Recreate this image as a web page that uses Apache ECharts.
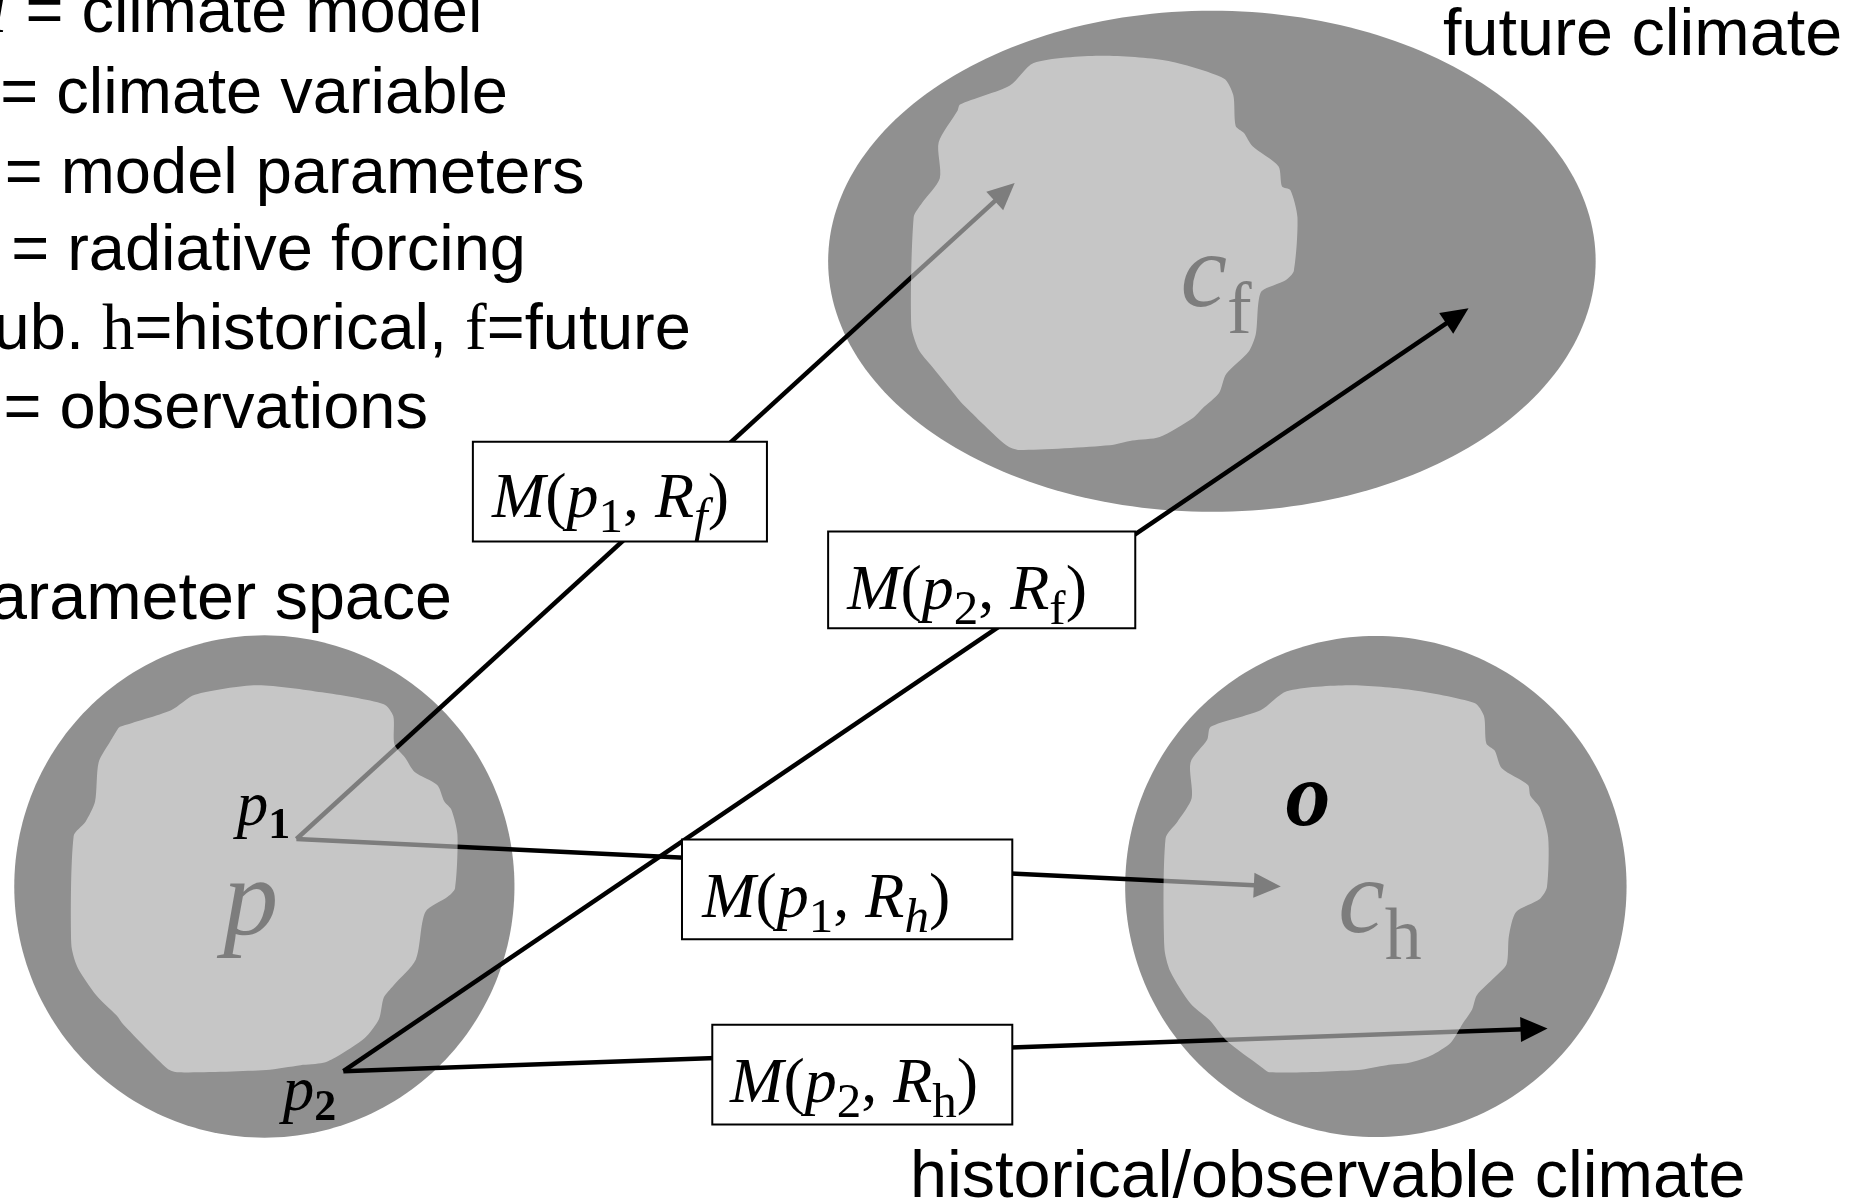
<!DOCTYPE html>
<html><head><meta charset="utf-8">
<script src="https://cdn.jsdelivr.net/npm/echarts@6/dist/echarts.min.js"></script>
<style>html,body{margin:0;padding:0;background:#fff;overflow:hidden}#c{width:1863px;height:1203px}</style>
</head><body><div id="c"></div>
<script>
// Diagram data space: x 0..1568, y 0..1013 (y grows downward)
const regionNames = ['parameter space', 'future climate', 'historical/observable climate'];
const regionCx = [222.5, 1020, 1158];
const regionCy = [746.5, 220, 746.5];
const regionRx = [210.5, 323, 211];
const regionRy = [211.5, 211, 211];

const paramBlob = [[101,612],[144,598],[164,585],[216,577],[271,583],[323,593],[331,603],[332,627],[341,638],[349,650],[368,661],[374,675],[380,682],[385,703],[383,748],[377,755],[358,768],[350,808],[331,830],[323,840],[319,858],[307,874],[283,890],[272,895],[253,897],[224,901],[150,903],[141,900],[104,863],[98,855],[81,838],[65,814],[60,795],[62,704],[72,692],[80,675],[83,642],[93,624],[99,614]];
const futureBlob = [[808,88],[850,72],[870,53],[925,47],[981,51],[1030,66],[1038,80],[1040,106],[1047,112],[1054,123],[1076,140],[1079,157],[1086,160],[1092,183],[1089,228],[1082,236],[1062,245],[1059,256],[1057,281],[1051,296],[1032,315],[1026,331],[1012,344],[1004,352],[976,368],[953,371],[934,375],[858,379],[847,375],[811,341],[805,334],[783,307],[773,294],[767,274],[769,183],[776,171],[791,150],[790,120],[806,93]];
const historicalBlob = [[1019,612],[1061,598],[1083,582],[1135,577],[1188,581],[1241,592],[1249,603],[1251,626],[1258,632],[1264,647],[1286,661],[1288,670],[1296,680],[1303,705],[1302,747],[1296,757],[1276,768],[1270,788],[1268,812],[1258,823],[1243,838],[1239,850],[1231,862],[1221,878],[1204,889],[1186,895],[1167,897],[1143,901],[1069,903],[1061,898],[1032,876],[1018,859],[1002,845],[985,818],[980,798],[981,706],[991,692],[1003,672],[1002,642],[1016,623]];
const blobs = [paramBlob, futureBlob, historicalBlob];

const arrowFrom = [[249.5,706.5],[249.5,706.5],[289,902],[289,902]];
const arrowTo = [[854,154],[1078,746.5],[1236,259.5],[1302.5,866]];

const boxX0 = [398, 697, 574, 599.5];
const boxX1 = [645.5, 955.5, 852, 852];
const boxY0 = [372, 447.5, 707, 863];
const boxY1 = [456, 529, 791, 947];
const boxTextX = [414, 713, 591, 614.5];
const boxTextY = [435.2, 512.5, 772, 927.6];
const boxFrags = [
  [['M','bIt'],['(','bRm'],['p','bIt'],['1','bSub'],[', ','bRm'],['R','bIt'],['f','bSubIt'],[')','bRm']],
  [['M','bIt'],['(','bRm'],['p','bIt'],['2','bSub'],[', ','bRm'],['R','bIt'],['f','bSub'],[')','bRm']],
  [['M','bIt'],['(','bRm'],['p','bIt'],['1','bSub'],[', ','bRm'],['R','bIt'],['h','bSubIt'],[')','bRm']],
  [['M','bIt'],['(','bRm'],['p','bIt'],['2','bSub'],[', ','bRm'],['R','bIt'],['h','bSub'],[')','bRm']]
];

const legendFrags = [
  [['M','lIt'],[' = climate model','sans']],
  [['c','lIt'],[' = climate variable','sans']],
  [['p','lIt'],[' = model parameters','sans']],
  [['R','lIt'],[' = radiative forcing','sans']],
  [['sub. ','sans'],['h','lRm'],['=historical, ','sans'],['f','lRm'],['=future','sans']],
  [['o','lIt'],[' = observations','sans']]
];
const legendRight = [406, 427.5, 492, 442.7, 581.5, 360.2];
const legendBase = [27, 94.8, 162.5, 227.5, 293.5, 360.5];

const headingTexts = ['parameter space', 'future climate', 'historical/observable climate'];
const headingX = [380.5, 1214.5, 766];
const headingBase = [521.5, 46.5, 1008];
const headingAlign = ['right', 'left', 'left'];

const markFrags = [[['p','pIt'],['1','pSub1']], [['p','pIt'],['2','pSub2']], [['o','oBi']]];
const markX = [199.2, 237.9, 1082];
const markBase = [694.4, 934.3, 694.5];

const symbolFrags = [[['p','gIt']], [['c','cIt'],['f','cSub']], [['c','cIt'],['h','cSub']]];
const symbolX = [188, 993.5, 1126.3];
const symbolBase = [787, 257.6, 784.5];

// ---- styles ----
const SERIF = "'Liberation Serif','Times New Roman',serif";
const SANS = "'Liberation Sans',Arial,sans-serif";
const fontStyles = {
  sans: {font: '65px ' + SANS, dy: 0},
  head: {font: '66.5px ' + SANS, dy: 0},
  lIt: {font: 'italic 65px ' + SERIF, dy: 0},
  lRm: {font: '65px ' + SERIF, dy: 0},
  bIt: {font: 'italic 64px ' + SERIF, dy: 0},
  bRm: {font: '64px ' + SERIF, dy: 0},
  bSub: {font: '49px ' + SERIF, dy: 15},
  bSubIt: {font: 'italic 49px ' + SERIF, dy: 15},
  pIt: {font: 'italic 63px ' + SERIF, dy: 0},
  pSub1: {font: 'bold 44px ' + SERIF, dy: 13},
  pSub2: {font: 'bold 44px ' + SERIF, dy: 10},
  cIt: {font: 'italic 105px ' + SERIF, dy: 0},
  cSub: {font: '74px ' + SERIF, dy: 27},
  gIt: {font: 'italic 110px ' + SERIF, dy: 0},
  oBi: {font: 'italic bold 90px ' + SERIF, dy: 0}
};
const DARK = '#909090';

const mctx = document.createElement('canvas').getContext('2d');
const offCache = {};
function baseOff(font) {
  if (offCache[font] == null) {
    mctx.font = font;
    mctx.textBaseline = 'alphabetic';
    const a = mctx.measureText('Hg').fontBoundingBoxAscent;
    mctx.textBaseline = 'middle';
    const m = mctx.measureText('Hg').fontBoundingBoxAscent;
    offCache[font] = a - m;
  }
  return offCache[font];
}
function textW(font, t) { mctx.font = font; mctx.textBaseline = 'alphabetic'; return mctx.measureText(t).width; }

function runEls(frags, px, py, align, fill) {
  let total = 0;
  frags.forEach(f => { total += textW(fontStyles[f[1]].font, f[0]); });
  let x = align === 'right' ? px - total : (align === 'center' ? px - total / 2 : px);
  const els = [];
  frags.forEach(f => {
    const st = fontStyles[f[1]];
    els.push({type: 'text', x: x, y: py + st.dy - baseOff(st.font),
      style: {text: f[0], font: st.font, fill: fill || '#000', align: 'left', verticalAlign: 'middle'}});
    x += textW(st.font, f[0]);
  });
  return els;
}

const chart = echarts.init(document.getElementById('c'), null, {renderer: 'canvas'});

const option = {
  animation: false,
  backgroundColor: '#ffffff',
  grid: {left: 0, right: 0, top: 0, bottom: 0},
  xAxis: {type: 'value', min: 0, max: 1568, show: false},
  yAxis: {type: 'value', min: 0, max: 1013, inverse: true, show: false},
  series: [
    { // dark regions
      type: 'custom', name: 'regions', z: 1, silent: true,
      data: regionCx.map((x, i) => [x, regionCy[i], regionRx[i], regionRy[i]]),
      renderItem: function (params, api) {
        const c = api.coord([api.value(0), api.value(1)]);
        const e = api.coord([api.value(0) + api.value(2), api.value(1) + api.value(3)]);
        const rx = e[0] - c[0], ry = e[1] - c[1];
        const pts = [];
        for (let k = 0; k < 240; k++) {
          const t = k / 240 * Math.PI * 2;
          pts.push([c[0] + rx * Math.cos(t), c[1] + ry * Math.sin(t)]);
        }
        return {type: 'polygon', shape: {points: pts}, style: {fill: DARK}};
      }
    },
    { // arrows
      type: 'custom', name: 'mappings', z: 2, silent: true,
      data: arrowFrom.map((f, i) => [f[0], f[1], arrowTo[i][0], arrowTo[i][1]]),
      renderItem: function (params, api) {
        const a = api.coord([api.value(0), api.value(1)]);
        const b = api.coord([api.value(2), api.value(3)]);
        const dx = b[0] - a[0], dy = b[1] - a[1], L = Math.hypot(dx, dy);
        const ux = dx / L, uy = dy / L, hl = 27, hw = 12.5;
        const bx = b[0] - ux * hl, by = b[1] - uy * hl;
        return {type: 'group', children: [
          {type: 'line', shape: {x1: a[0], y1: a[1], x2: b[0] - ux * hl * 0.6, y2: b[1] - uy * hl * 0.6},
            style: {stroke: '#000', lineWidth: 4.5}},
          {type: 'polygon', shape: {points: [[b[0], b[1]], [bx - uy * hw, by + ux * hw], [bx + uy * hw, by - ux * hw]]},
            style: {fill: '#000'}}
        ]};
      }
    },
    { // region symbols (under the translucent blobs)
      type: 'custom', name: 'symbols', z: 2, silent: true,
      data: symbolX.map((x, i) => [x, symbolBase[i]]),
      renderItem: function (params, api) {
        const i = params.dataIndex;
        const p = api.coord([symbolX[i], symbolBase[i]]);
        return {type: 'group', children: runEls(symbolFrags[i], p[0], p[1], 'left')};
      }
    },
    { // light blobs (translucent white)
      type: 'custom', name: 'blobs', z: 3, silent: true,
      data: blobs.map(b => [b[0][0], b[0][1]]),
      renderItem: function (params, api) {
        const pts = blobs[params.dataIndex].map(p => api.coord(p));
        return {type: 'polygon', shape: {points: pts, smooth: 0.25}, style: {fill: '#ffffff', opacity: 0.49}};
      }
    },
    { // boxes
      type: 'custom', name: 'boxes', z: 4, silent: true,
      data: boxX0.map((x, i) => [x, boxY0[i]]),
      renderItem: function (params, api) {
        const i = params.dataIndex;
        const p0 = api.coord([boxX0[i], boxY0[i]]);
        const p1 = api.coord([boxX1[i], boxY1[i]]);
        const t = api.coord([boxTextX[i], boxTextY[i]]);
        return {type: 'group', children: [
          {type: 'rect', shape: {x: p0[0], y: p0[1], width: p1[0] - p0[0], height: p1[1] - p0[1]},
            style: {fill: '#fff', stroke: '#000', lineWidth: 2}}
        ].concat(runEls(boxFrags[i], t[0], t[1], 'left'))};
      }
    },
    { // point labels p1, p2, o
      type: 'custom', name: 'marks', z: 5, silent: true,
      data: markX.map((x, i) => [x, markBase[i]]),
      renderItem: function (params, api) {
        const i = params.dataIndex;
        const p = api.coord([markX[i], markBase[i]]);
        return {type: 'group', children: runEls(markFrags[i], p[0], p[1], 'left')};
      }
    },
    { // legend text
      type: 'custom', name: 'legend', z: 5, silent: true,
      data: legendRight.map((x, i) => [x, legendBase[i]]),
      renderItem: function (params, api) {
        const i = params.dataIndex;
        const p = api.coord([legendRight[i], legendBase[i]]);
        return {type: 'group', children: runEls(legendFrags[i], p[0], p[1], 'right')};
      }
    },
    { // headings
      type: 'custom', name: 'headings', z: 5, silent: true,
      data: headingX.map((x, i) => [x, headingBase[i]]),
      renderItem: function (params, api) {
        const i = params.dataIndex;
        const p = api.coord([headingX[i], headingBase[i]]);
        return {type: 'group', children: runEls([[headingTexts[i], 'head']], p[0], p[1], headingAlign[i])};
      }
    }
  ]
};
chart.setOption(option);
</script></body></html>
